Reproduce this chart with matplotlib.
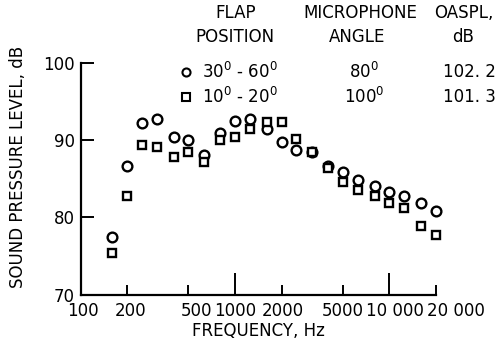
import matplotlib
matplotlib.use("Agg")
import matplotlib.pyplot as plt
import matplotlib.transforms as mtransforms
from matplotlib.lines import Line2D

# ---- data ----
freq_hz = [160, 200, 250, 315, 400, 500, 630, 800, 1000, 1250, 1600, 2000,
           2500, 3150, 4000, 5000, 6300, 8000, 10000, 12500, 16000, 20000]
spl_flap_30_60 = [77.4, 86.7, 92.2, 92.7, 90.4, 90.0, 88.1, 90.9, 92.5, 92.8, 91.4, 89.8,
                  88.7, 88.5, 86.7, 85.9, 84.8, 84.1, 83.3, 82.8, 81.8, 80.8]
spl_flap_10_20 = [75.4, 82.7, 89.4, 89.1, 87.8, 88.5, 87.2, 90.0, 90.4, 91.5, 92.3, 92.3,
                  90.2, 88.5, 86.4, 84.6, 83.5, 82.8, 81.8, 81.2, 78.9, 77.7]
x_tick_values = [100, 200, 500, 1000, 2000, 5000, 10000, 20000]
x_tick_labels = ["100", "200", "500", "1000", "2000", "5000", "10 000", "20 000"]
y_tick_values = [70, 80, 90, 100]
flap_labels = [r"30$^0$ - 60$^0$", r"10$^0$ - 20$^0$"]
mic_angles = [r"80$^0$", r"100$^0$"]
oaspl = ["102. 2", "101. 3"]

plt.rcParams["font.family"] = ["DejaVu Sans"]
FS = 12

W, H = 504, 347
fig = plt.figure(figsize=(W / 100, H / 100), dpi=100)
ax = fig.add_axes([80.5 / W, 1 - 294.5 / H, (436 - 80.5) / W, (294.5 - 63) / H])

ax.plot(freq_hz, spl_flap_30_60, linestyle="none", marker="o", ms=7.0,
        mfc="white", mec="black", mew=1.7, clip_on=False)
ax.plot(freq_hz, spl_flap_10_20, linestyle="none", marker="s", ms=6.3,
        mfc="white", mec="black", mew=1.7, clip_on=False)

ax.set_xscale("log")
ax.set_xlim(100, 20000)
ax.set_ylim(70, 100)
for s in ["top", "right"]:
    ax.spines[s].set_visible(False)
for s in ["left", "bottom"]:
    ax.spines[s].set_linewidth(1.6)

# x ticks: long at decades, short elsewhere
ax.set_xticks([1000, 10000])
ax.set_xticks([200, 500, 2000, 5000, 20000], minor=True)
ax.tick_params(axis="x", which="major", direction="in", length=16, width=1.4, labelbottom=False)
ax.tick_params(axis="x", which="minor", direction="in", length=7.5, width=1.4, labelbottom=False)
label_dx = [2, 4, 8, 0, 1, 0, 5, 20]
for v, lab, dx in zip(x_tick_values, x_tick_labels, label_dx):
    tr = ax.get_xaxis_transform() + mtransforms.ScaledTranslation(dx / 100, -8 / 100, fig.dpi_scale_trans)
    ax.text(v, 0, lab, transform=tr, ha="center", va="top", fontsize=FS)

ax.set_yticks(y_tick_values)
ax.set_yticklabels([str(v) for v in y_tick_values], fontsize=FS)
ax.tick_params(axis="y", which="major", direction="in", length=9, width=1.4, pad=4)

ax.set_xlabel("FREQUENCY, Hz", fontsize=FS, labelpad=20)
ax.set_ylabel("SOUND PRESSURE LEVEL, dB", fontsize=FS)
ax.yaxis.set_label_coords(-53 / (436 - 80.5), 0.55)

# legend table
def px(x, y):
    return x / W, 1 - y / H

fig.text(*px(236, 13), "FLAP", ha="center", va="center", fontsize=FS)
fig.text(*px(235, 37), "POSITION", ha="center", va="center", fontsize=FS)
fig.text(*px(360, 13), "MICROPHONE", ha="center", va="center", fontsize=FS)
fig.text(*px(357, 37), "ANGLE", ha="center", va="center", fontsize=FS)
fig.text(*px(464, 13), "OASPL,", ha="center", va="center", fontsize=FS)
fig.text(*px(463, 37), "dB", ha="center", va="center", fontsize=FS)

row_y = [72, 97]
markers = [("o", 5.8), ("s", 5.2)]
for (m, ms), yy, fl, ma, oa in zip(markers, row_y, flap_labels, mic_angles, oaspl):
    fx, fy = px(186, yy)
    fig.add_artist(Line2D([fx], [fy], marker=m, ms=ms, mfc="white",
                          mec="black", mew=1.5, transform=fig.transFigure))
    fig.text(*px(202, yy), fl, ha="left", va="center", fontsize=FS)
    fig.text(*px(364, yy), ma, ha="center", va="center", fontsize=FS)
    fig.text(*px(469, yy), oa, ha="center", va="center", fontsize=FS)

fig.savefig("out.png", dpi=100)
